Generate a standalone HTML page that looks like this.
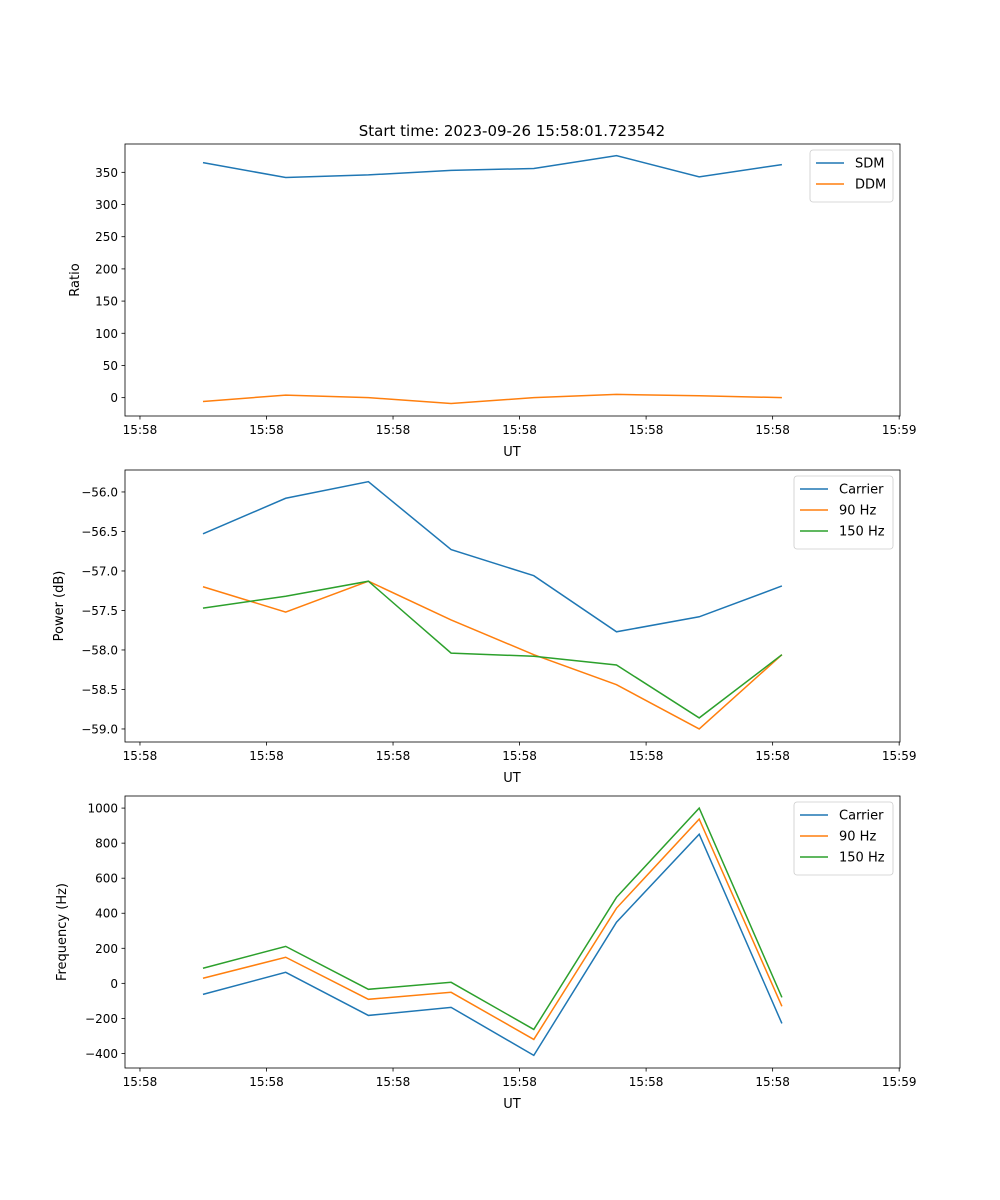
<!DOCTYPE html>
<html><head><meta charset="utf-8"><style>
body{margin:0;background:#fff;}
svg{display:block;font-family:"DejaVu Sans","Liberation Sans",sans-serif;}
</style></head><body>
<svg id="fig" width="1000" height="1200"></svg>
<script>
const sampleIdx = [0,1,2,3,4,5,6,7];
const xTickIdx = [-0.762,0.768,2.298,3.828,5.358,6.888,8.418];
const xTickLabels = ["15:58","15:58","15:58","15:58","15:58","15:58","15:59"];
const sdm = [365,342,346,353,356,376,343,362];
const ddm = [-6,4,0,-9,0,5,3,0];
const pwrCarrier = [-56.53,-56.08,-55.87,-56.73,-57.06,-57.77,-57.58,-57.19];
const pwr90 = [-57.2,-57.52,-57.13,-57.62,-58.06,-58.44,-59.0,-58.06];
const pwr150 = [-57.47,-57.32,-57.13,-58.04,-58.08,-58.19,-58.86,-58.06];
const frqCarrier = [-63,63,-183,-137,-411,349,851,-229];
const frq90 = [29,149,-91,-51,-320,429,937,-131];
const frq150 = [86,211,-34,6,-263,491,1000,-80];
const ratioTicks = [0,50,100,150,200,250,300,350];
const pwrTicks = [-56.0,-56.5,-57.0,-57.5,-58.0,-58.5,-59.0];
const frqTicks = [-400,-200,0,200,400,600,800,1000];

const NS="http://www.w3.org/2000/svg";
const svg=document.getElementById('fig');
function mk(tag,attrs,parent){const e=document.createElementNS(NS,tag);for(const k in attrs)e.setAttribute(k,attrs[k]);(parent||svg).appendChild(e);return e;}
const X0=125,X1=900,D0=-0.943,D1=8.428;
const xs=v=>X0+(v-D0)/(D1-D0)*(X1-X0);
const C={b:'#1f77b4',o:'#ff7f0e',g:'#2ca02c'};

function panel(name,top,ymin,ymax,yticks,fmt,ylabel,series,legendW){
  const bot=top+272;
  const ys=v=>bot-(v-ymin)/(ymax-ymin)*272;
  const g=mk('g',{});
  
  
  series.forEach(s=>{
    const p=mk('polyline',{points:sampleIdx.map((i,k)=>xs(i)+','+ys(s.data[k])).join(' '),fill:'none',stroke:s.c,'stroke-width':1.5},g);
    
    
  });
  const fr=mk('rect',{x:X0,y:top,width:X1-X0,height:272,fill:'none',stroke:'#000','stroke-width':0.8},g);
  
  
  xTickIdx.forEach((t,k)=>{
    const x=xs(t);
    mk('line',{x1:x,x2:x,y1:bot,y2:bot+3.5,stroke:'#000','stroke-width':0.8},g);
    const tx=mk('text',{x:x,y:bot+18,'font-size':12,'text-anchor':'middle'},g);tx.textContent=xTickLabels[k];
    
    
  });
  yticks.forEach(t=>{
    const y=ys(t);
    mk('line',{x1:X0-3.5,x2:X0,y1:y,y2:y,stroke:'#000','stroke-width':0.8},g);
    const tx=mk('text',{x:X0-7,y:y+4.5,'font-size':12,'text-anchor':'end'},g);tx.textContent=fmt(t);
    
    
  });
  const xl=mk('text',{x:512,y:bot+40,'font-size':13,'text-anchor':'middle'},g);xl.textContent='UT';
  
  
  const yx=name==='ratio'?79:(name==='power'?63:66);
  const yl=mk('text',{x:yx,y:top+136,'font-size':13,'text-anchor':'middle',transform:`rotate(-90 ${yx} ${top+136})`},g);yl.textContent=ylabel;
  
  
  const lx=X1-7-legendW, ly=top+6, lh=10+series.length*21;
  const lg=mk('g',{},g);
  
  
  mk('rect',{x:lx,y:ly,width:legendW,height:lh,rx:3,fill:'#fff',stroke:'#ccc','stroke-width':0.8},lg);
  series.forEach((s,k)=>{
    const y=ly+13+k*21;
    mk('line',{x1:lx+6,x2:lx+34,y1:y,y2:y,stroke:s.c,'stroke-width':1.5},lg);
    const t=mk('text',{x:lx+45,y:y+4.5,'font-size':13},lg);t.textContent=s.label;
    
    
  });
}
const title=mk('text',{x:512,y:136,'font-size':15,'text-anchor':'middle'});title.textContent='Start time: 2023-09-26 15:58:01.723542';


panel('ratio',144,-28.5,394,ratioTicks,v=>String(v),'Ratio',[{id:'sdm',label:'SDM',c:C.b,data:sdm},{id:'ddm',label:'DDM',c:C.o,data:ddm}],83);
panel('power',470,-59.165,-55.722,pwrTicks,v=>v.toFixed(1).replace('-','\u2212'),'Power (dB)',[{id:'carrier',label:'Carrier',c:C.b,data:pwrCarrier},{id:'90hz',label:'90 Hz',c:C.o,data:pwr90},{id:'150hz',label:'150 Hz',c:C.g,data:pwr150}],99);
panel('frequency',796,-483,1069,frqTicks,v=>String(v).replace('-','\u2212'),'Frequency (Hz)',[{id:'carrier',label:'Carrier',c:C.b,data:frqCarrier},{id:'90hz',label:'90 Hz',c:C.o,data:frq90},{id:'150hz',label:'150 Hz',c:C.g,data:frq150}],99);
</script>
</body></html>
